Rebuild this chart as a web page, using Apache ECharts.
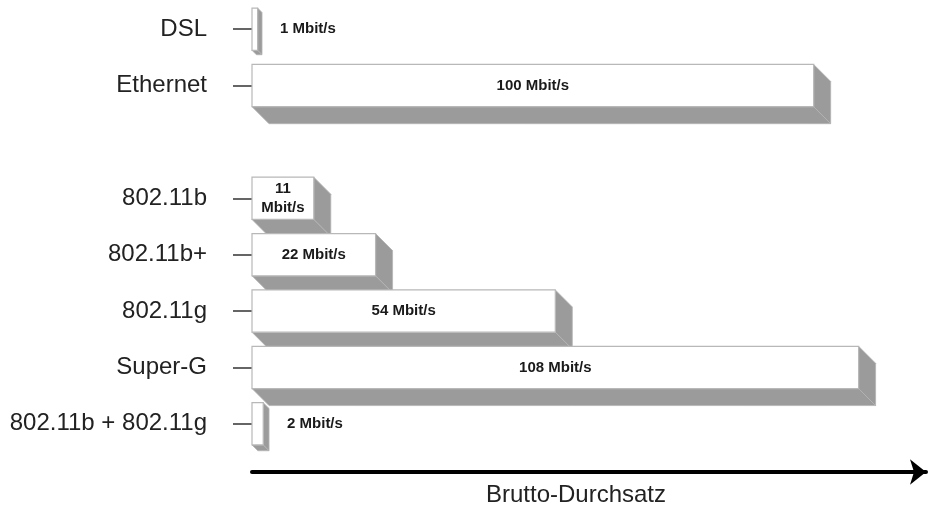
<!DOCTYPE html>
<html>
<head>
<meta charset="utf-8">
<script src="https://cdn.jsdelivr.net/npm/echarts@6/dist/echarts.min.js"></script>
<style>
  html, body { margin: 0; padding: 0; background: #fff; }
  #chart { width: 935px; height: 506px; }
</style>
</head>
<body>
<div id="chart"></div>
<script>
// Kategorien (leerer Eintrag = Abstand zwischen Festnetz und WLAN)
const categories = ['DSL', 'Ethernet', '', '802.11b', '802.11b+', '802.11g', 'Super-G', '802.11b + 802.11g'];
const speeds = [1, 100, null, 11, 22, 54, 108, 2];
const speedLabels = ['1 Mbit/s', '100 Mbit/s', '', '11\nMbit/s', '22 Mbit/s', '54 Mbit/s', '108 Mbit/s', '2 Mbit/s'];
const axisName = 'Brutto-Durchsatz';

const FONT = "'Liberation Sans', Arial, Helvetica, sans-serif";

// Daten für die custom-Serie
const barData = [];
const barTexts = [];
categories.forEach((c, i) => {
    if (speeds[i] == null) return;
    barData.push([speeds[i], i]);
    barTexts.push(speedLabels[i]);
});

// 3D-Balken: Vorderseite weiß, rechte und untere Seite grau
function renderBar(params, api) {
    const val = api.value(0);
    const cat = api.value(1);
    const start = api.coord([0, cat]);
    const end = api.coord([val, cat]);
    const h = api.size([0, 1])[1] * 0.75;
    const x0 = start[0];
    const y0 = start[1] - h / 2;
    const w = end[0] - start[0];
    const d = Math.min(17, 3 + w * 0.25);

    const text = barTexts[params.dataIndex];
    const inside = w > 50;
    const children = [
        {
            type: 'polygon',
            shape: { points: [[x0 + w, y0], [x0 + w + d, y0 + d], [x0 + w + d, y0 + h + d], [x0 + w, y0 + h]] },
            style: { fill: '#9b9b9b', stroke: '#b4b4b4', lineWidth: 0.8 }
        },
        {
            type: 'polygon',
            shape: { points: [[x0, y0 + h], [x0 + w, y0 + h], [x0 + w + d, y0 + h + d], [x0 + d, y0 + h + d]] },
            style: { fill: '#9b9b9b', stroke: '#b4b4b4', lineWidth: 0.8 }
        },
        {
            type: 'rect',
            shape: { x: x0, y: y0, width: w, height: h },
            style: { fill: '#ffffff', stroke: '#b8b8b8', lineWidth: 1.2 }
        },
        {
            type: 'text',
            style: {
                text: text,
                x: inside ? x0 + w / 2 : x0 + w + d + 18,
                y: y0 + h / 2,
                align: inside ? 'center' : 'left',
                verticalAlign: 'middle',
                fill: '#1a1a1a',
                font: 'bold 15px ' + FONT,
                lineHeight: 19
            }
        }
    ];
    return { type: 'group', children: children };
}

const chart = echarts.init(document.getElementById('chart'), null, { renderer: 'canvas' });

chart.setOption({
    backgroundColor: '#ffffff',
    animation: false,
    grid: { left: 252, right: 9, top: 1, height: 451, outerBoundsMode: 'none', containLabel: false },
    xAxis: {
        type: 'value',
        min: 0,
        max: 120,
        offset: 20,
        axisLine: {
            show: true,
            symbol: ['none', 'arrow'],
            symbolSize: [19, 16],
            lineStyle: { color: '#000', width: 4 }
        },
        axisTick: { show: false },
        axisLabel: { show: false },
        splitLine: { show: false },
        name: axisName,
        nameLocation: 'middle',
        nameGap: 11,
        nameTextStyle: {
            fontFamily: FONT,
            fontSize: 24,
            color: '#222',
            verticalAlign: 'top',
            padding: [0, 26, 0, 0]
        }
    },
    yAxis: {
        type: 'category',
        data: categories,
        inverse: true,
        axisLine: { show: false },
        axisTick: {
            show: true,
            alignWithLabel: true,
            length: 19,
            interval: (idx, value) => value !== '',
            lineStyle: { color: '#333', width: 1.5 }
        },
        axisLabel: {
            margin: 45,
            fontFamily: FONT,
            fontSize: 24,
            color: '#222'
        },
        splitLine: { show: false }
    },
    series: [{
        type: 'custom',
        renderItem: renderBar,
        encode: { x: 0, y: 1 },
        data: barData,
        clip: false
    }]
});
</script>
</body>
</html>
